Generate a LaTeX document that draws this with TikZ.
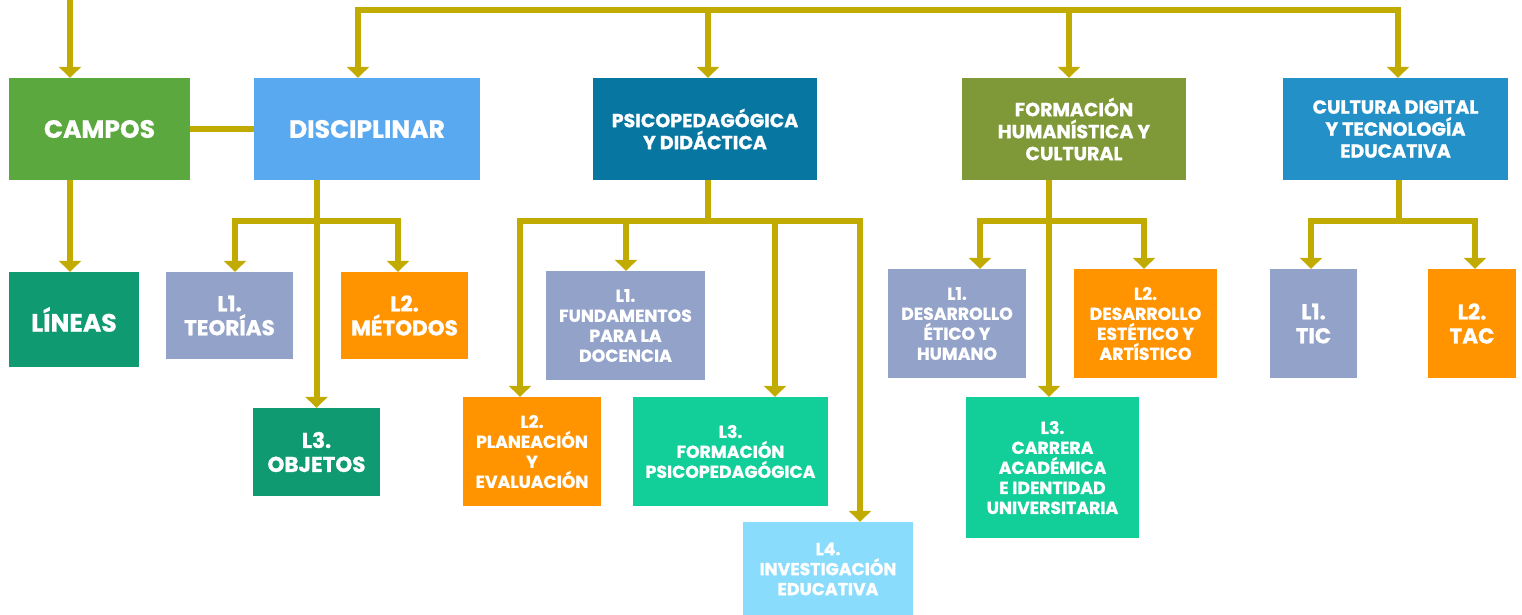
\documentclass[tikz,border=0pt]{standalone}
\usepackage{fontspec}
\setmainfont{Poppins}[BoldFeatures={FakeBold=1}]
\usetikzlibrary{arrows.meta}

\definecolor{linea}{RGB}{193,171,0}
\definecolor{verdeC}{RGB}{90,168,62}
\definecolor{azulD}{RGB}{88,169,240}
\definecolor{azulP}{RGB}{7,118,161}
\definecolor{oliva}{RGB}{127,152,56}
\definecolor{azulC}{RGB}{35,145,200}
\definecolor{verdeL}{RGB}{16,154,114}
\definecolor{lavanda}{RGB}{147,162,201}
\definecolor{naranja}{RGB}{255,147,0}
\definecolor{menta}{RGB}{18,207,154}
\definecolor{celeste}{RGB}{138,220,252}

% caja: nombre, x1, y1, x2, y2, estilo, texto
\newcommand{\caja}[7]{
	\pgfmathsetmacro{\CJw}{#4-#2}
	\pgfmathsetmacro{\CJh}{#5-#3}
	\node[caja, #6, minimum width=\CJw pt, minimum height=\CJh pt] (#1) at ({(#2+#4)/2}, {(#3+#5)/2}) {#7};
}

% horquilla: x izq, x der, y barra, nodo izq, nodo der
\newcommand{\horquilla}[5]{
	\coordinate (#4bar) at (#1,#3);
	\coordinate (#5bar) at (#2,#3);
	\draw[doble] (#4bar |- #4.north) -- (#4bar) -- (#5bar) -- (#5bar |- #5.north);
}

\tikzset{punta/.tip={Triangle[width=22pt,length=11pt]}}

\begin{document}
\begin{tikzpicture}[x=1pt, y=-1pt,
	caja/.style={inner sep=0pt, text=white, align=center},
	grande/.style={font=\bfseries\fontsize{25}{29}\selectfont},
	medio/.style={font=\bfseries\fontsize{21.5}{24}\selectfont},
	cabeza/.style={font=\bfseries\fontsize{19}{22}\selectfont},
	chico/.style={font=\bfseries\fontsize{17.3}{20}\selectfont},
	enlace/.style={line width=6pt, draw=linea},
	flecha/.style={enlace, -punta},
	doble/.style={enlace, punta-punta}]
\useasboundingbox (0,0) rectangle (1522,614);

\pgfmathsetmacro{\brY}{221}

% campos
\caja{campos}{9}{78}{190}{180}{fill=verdeC, grande}{CAMPOS}
\caja{disc}{254}{78}{480}{180}{fill=azulD, grande}{DISCIPLINAR}
\caja{psico}{593}{78}{817}{180}{fill=azulP, cabeza}{PSICOPEDAGÓGICA\\Y DIDÁCTICA}
\caja{formh}{962}{78}{1186}{180}{fill=oliva, cabeza}{FORMACIÓN\\HUMANÍSTICA Y\\CULTURAL}
\caja{cultd}{1283}{78}{1508}{180}{fill=azulC, cabeza}{CULTURA DIGITAL\\Y TECNOLOGÍA\\EDUCATIVA}

% lineas
\caja{lineas}{9}{272}{139}{367}{fill=verdeL, grande}{LÍNEAS}
\caja{teo}{166}{272}{293}{359}{fill=lavanda, medio}{L1.\\TEORÍAS}
\caja{met}{341}{272}{468}{359}{fill=naranja, medio}{L2.\\MÉTODOS}
\caja{obj}{253}{408}{380}{496}{fill=verdeL, medio}{L3.\\OBJETOS}

\caja{fund}{546}{271}{705}{380}{fill=lavanda, chico}{L1.\\FUNDAMENTOS\\PARA LA\\DOCENCIA}
\caja{plan}{463}{397}{601}{506}{fill=naranja, chico}{L2.\\PLANEACIÓN\\Y\\EVALUACIÓN}
\caja{fpsi}{633}{397}{828}{506}{fill=menta, chico}{L3.\\FORMACIÓN\\PSICOPEDAGÓGICA}
\caja{inv}{743}{522}{913}{616}{fill=celeste, chico}{L4.\\INVESTIGACIÓN\\EDUCATIVA}

\caja{des1}{888}{269}{1026}{378}{fill=lavanda, chico}{L1.\\DESARROLLO\\ÉTICO Y\\HUMANO}
\caja{des2}{1074}{269}{1217}{378}{fill=naranja, chico}{L2.\\DESARROLLO\\ESTÉTICO Y\\ARTÍSTICO}
\caja{carr}{966}{397}{1139}{538}{fill=menta, chico}{L3.\\CARRERA\\ACADÉMICA\\E IDENTIDAD\\UNIVERSITARIA}

\caja{tic}{1270}{269}{1357}{378}{fill=lavanda, medio}{L1.\\TIC}
\caja{tac}{1428}{269}{1516}{378}{fill=naranja, medio}{L2.\\TAC}

% conectores de arriba
\coordinate (entrada) at (70,0);
\draw[flecha] (entrada) -- (entrada |- campos.north);
\draw[flecha] (entrada |- campos.south) -- (entrada |- lineas.north);
\draw[enlace] (campos.east) -- (campos.east -| disc.west);

\coordinate (tDisc) at (358,10);
\coordinate (tPsico) at (708,10);
\coordinate (tForm) at (1069,10);
\coordinate (tCult) at (1398,10);
\draw[doble] (tDisc |- disc.north) -- (tDisc) -- (tCult) -- (tCult |- cultd.north);
\draw[flecha] (tPsico) -- (tPsico |- psico.north);
\draw[flecha] (tForm) -- (tForm |- formh.north);

% disciplinar
\draw[flecha] (obj.north |- disc.south) -- (obj.north);
\horquilla{235}{398}{\brY}{teo}{met}

% psicopedagogica
\coordinate (psT) at (708,\brY);
\coordinate (psA) at (626,\brY);
\coordinate (psB) at (775,\brY);
\draw[enlace] (psT |- psico.south) -- (psT);
\horquilla{520}{860}{\brY}{plan}{inv}
\draw[flecha] (psA) -- (psA |- fund.north);
\draw[flecha] (psB) -- (psB |- fpsi.north);

% formacion humanistica
\coordinate (fhT) at (1049,\brY);
\draw[flecha] (fhT |- formh.south) -- (fhT |- carr.north);
\horquilla{980}{1144}{\brY}{des1}{des2}

% cultura digital
\coordinate (cdT) at (1399,\brY);
\draw[enlace] (cdT |- cultd.south) -- (cdT);
\horquilla{1311}{1475}{\brY}{tic}{tac}
\end{tikzpicture}
\end{document}
